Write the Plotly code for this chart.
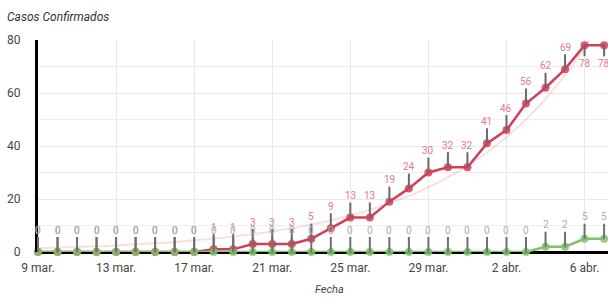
import numpy as np
import pandas as pd
import plotly.graph_objects as go

dates = pd.date_range("2020-03-09", "2020-04-07", freq="D")
confirmados = [0, 0, 0, 0, 0, 0, 0, 0, 0, 1, 1, 3, 3, 3, 5, 9, 13, 13, 19, 24,
               30, 32, 32, 41, 46, 56, 62, 69, 78, 78]
otros = [0] * 26 + [2, 2, 5, 5]
tick_dates = pd.date_range("2020-03-09", "2020-04-06", freq="4D")
tick_text = ["9 mar.", "13 mar.", "17 mar.", "21 mar.", "25 mar.", "29 mar.", "2 abr.", "6 abr."]

FONT = "Roboto, Arial, sans-serif"
RED = "#d03f58"
GREEN = "#7fc26b"

# exponential trendline (least squares) fitted to the red series
xi = np.arange(len(dates), dtype=float)
yv = np.array(confirmados, dtype=float)
best = None
for b in np.linspace(0.05, 0.4, 701):
    e = np.exp(b * xi)
    a = (yv * e).sum() / (e * e).sum()
    err = ((yv - a * e) ** 2).sum()
    if best is None or err < best[0]:
        best = (err, a, b)
_, A, B = best
xf = np.linspace(0, len(dates) - 1, 200)
trend_dates = dates[0] + pd.to_timedelta(xf, unit="D")
trend = A * np.exp(B * xf)

fig = go.Figure()
fig.add_trace(go.Scatter(x=trend_dates, y=trend, mode="lines",
                         line=dict(color="rgba(220,70,95,0.18)", width=2),
                         hoverinfo="skip", showlegend=False))
fig.add_trace(go.Scatter(x=dates, y=confirmados, mode="lines+markers",
                         line=dict(color=RED, width=2.5),
                         marker=dict(color=RED, size=8, opacity=0.85),
                         cliponaxis=False, showlegend=False))
fig.add_trace(go.Scatter(x=dates, y=otros, mode="lines+markers",
                         line=dict(color=GREEN, width=2.5),
                         marker=dict(color=GREEN, size=8, opacity=0.85),
                         cliponaxis=False, showlegend=False))

annotations = []
for d, v in zip(dates, confirmados):
    down = v > 72
    annotations.append(dict(x=d, y=v, xref="x", yref="y", text=str(v),
                            showarrow=True, arrowhead=0, arrowwidth=2,
                            arrowcolor="#6a6a6a", ax=0, ay=18 if down else -22,
                            standoff=0,
                            font=dict(family=FONT, size=10, color="#e07a8a")))
for d, v in zip(dates, otros):
    annotations.append(dict(x=d, y=v, xref="x", yref="y", text=str(v),
                            showarrow=True, arrowhead=0, arrowwidth=2,
                            arrowcolor="#707070", ax=0, ay=-22, standoff=0,
                            font=dict(family=FONT, size=10, color="#a8aea8")))

annotations.append(dict(x=-0.058, y=1.108, xref="paper", yref="paper",
                        text="<i>Casos Confirmados</i>", showarrow=False,
                        xanchor="left", yanchor="middle",
                        font=dict(family=FONT, size=12, color="#333333")))
annotations.append(dict(x=0.512, y=-0.179, xref="paper", yref="paper", text="<i>Fecha</i>",
                        showarrow=False, xanchor="center", yanchor="middle",
                        font=dict(family=FONT, size=11, color="#444444")))

start = dates[0]
end = start + pd.Timedelta(days=29.2)

fig.update_layout(
    width=608, height=301,
    margin=dict(l=38, r=0, t=40, b=49),
    paper_bgcolor="white", plot_bgcolor="white",
    font=dict(family=FONT, size=12, color="#444444"),
    annotations=annotations,
    xaxis=dict(range=[start, end], tickvals=tick_dates, ticktext=tick_text,
               showgrid=True, gridcolor="#e8e8e8", gridwidth=1, automargin=False,
               ticks="", tickfont=dict(size=12, color="#444444"),
               zeroline=False, showline=False, ticklabelstandoff=7),
    yaxis=dict(range=[0, 80], tickvals=[0, 20, 40, 60, 80], automargin=False,
               showgrid=True, gridcolor="#e8e8e8",
               minor=dict(tickvals=[10, 30, 50, 70], showgrid=True, gridcolor="#eeeeee"),
               zeroline=True, zerolinecolor="black", zerolinewidth=3,
               showline=True, linecolor="black", linewidth=3,
               ticks="", tickfont=dict(size=12, color="#444444"), ticklabelstandoff=12),
)

fig.write_html("out.html", config={"displayModeBar": False},
               post_script="document.body.style.margin='0';")
